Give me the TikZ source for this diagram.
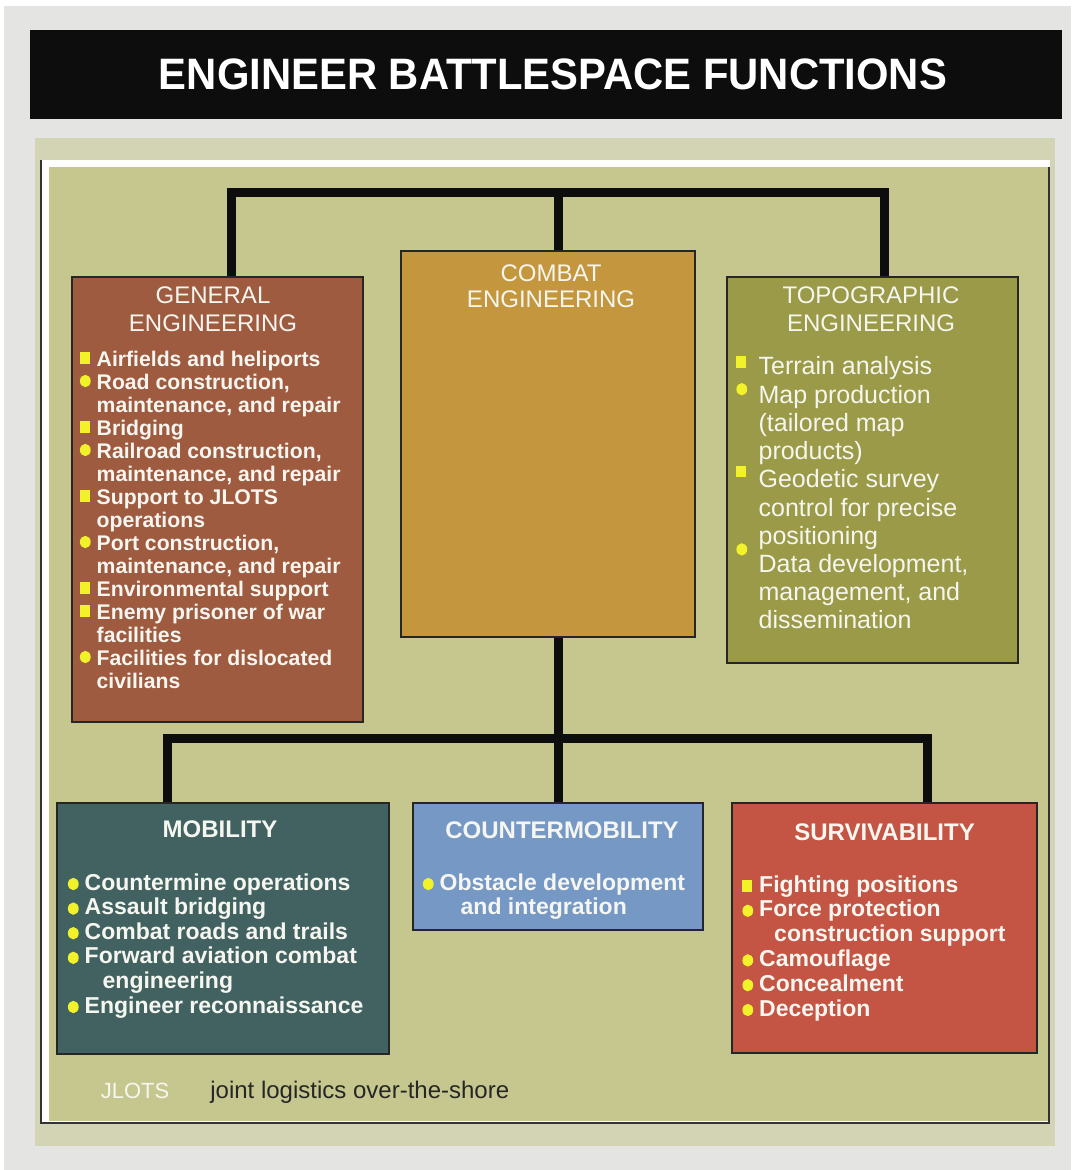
\documentclass[tikz,border=0pt]{standalone}
\usepackage{fontspec}
\setmainfont{Liberation Sans}
\usepackage{graphicx}
\usetikzlibrary{calc,fit}

\definecolor{bggray}{HTML}{E4E4E2}
\definecolor{panel}{HTML}{D2D4B4}
\definecolor{khaki}{HTML}{C6C78F}
\definecolor{genbrown}{HTML}{9E5B40}
\definecolor{combgold}{HTML}{C4973F}
\definecolor{topoolive}{HTML}{9A9A48}
\definecolor{mobteal}{HTML}{416260}
\definecolor{cmobblue}{HTML}{7598C4}
\definecolor{survred}{HTML}{C45443}
\definecolor{bulyel}{HTML}{F2F22A}
\definecolor{txtwhite}{HTML}{F6F6F0}

% bullets, optional arg = height of the bullet centre over the baseline
\newcommand{\sqb}[1][4pt]{\smash{\tikz[baseline=0pt]\fill[bulyel] (0pt,#1-2.8pt) rectangle ++(5pt,5.6pt);}}
\newcommand{\rdb}[1][4pt]{\smash{\tikz[baseline=0pt]\fill[bulyel] (2.7pt,#1) ellipse (2.7pt and 3.1pt);}}

\begin{document}
\begin{tikzpicture}[x=0.5pt,y=-0.5pt,line join=miter]
		\tikzstyle{box}=[draw=black!85, line width=1pt, inner sep=0pt];
		\tikzstyle{conn}=[line width=4.5pt, black!95];
		\tikzstyle{head}=[text=txtwhite, inner sep=0pt, anchor=base];
		\tikzstyle{body}=[text=txtwhite, inner sep=0pt, anchor=base west];

		\useasboundingbox (0,0) rectangle (1071,1170);
		\fill[white] (0,0) rectangle (1071,1170);
		\fill[bggray] (4,6) rectangle (1071,1170);

		% title bar
		\fill[black!95] (30,30) rectangle (1062,119);
		\node[head, text=white, font=\fontsize{22}{26}\selectfont\bfseries] (title) at (553,90) {\scalebox{0.95}[1]{ENGINEER BATTLESPACE FUNCTIONS}};

		% panel
		\fill[panel] (35,138) rectangle (1055,1146);
		\fill[white] (41,160) rectangle (1050,1123);
		\fill[khaki] (49,167) rectangle (1048,1121);
		\draw[black!80, line width=1pt] (41,160) -- (41,1123) -- (1049,1123) -- (1049,167);

		% boxes
		\node[box, fill=genbrown, fit={(72,277) (363,722)}] (gen) {};
		\node[box, fill=combgold, fit={(401,251) (695,637)}] (comb) {};
		\node[box, fill=topoolive, fit={(727,277) (1018,663)}] (topo) {};
		\node[box, fill=mobteal, fit={(57,803) (389,1054)}] (mob) {};
		\node[box, fill=cmobblue, fit={(413,803) (703,930)}] (cmob) {};
		\node[box, fill=survred, fit={(732,803) (1037,1053)}] (surv) {};

		% connectors
		\coordinate (topbar) at (558,193);
		\coordinate (gtop) at ($(gen.north)+(14,0)$);
		\coordinate (ttop) at ($(topo.north)+(11.5,0)$);
		\draw[conn] (gtop) |- (topbar) -| (ttop);
		\draw[conn] (topbar) -- ($(comb.north)+(10,0)$);

		\coordinate (botbar) at (558,738);
		\draw[conn] ($(comb.south)+(10,0)$) -- (botbar) -- (cmob.north);
		\draw[conn] ($(mob.north)+(-56,0)$) |- (botbar) -| ($(surv.north)+(43,0)$);

		% headings
		\node[head, font=\fontsize{12}{14}\selectfont] (genhead) at (213,304) {\begin{tabular}[t]{@{}c@{}}GENERAL\\ENGINEERING\end{tabular}};
		\node[head, font=\fontsize{12}{13}\selectfont] (combhead) at (551,282) {\begin{tabular}[t]{@{}c@{}}COMBAT\\ENGINEERING\end{tabular}};
		\node[head, font=\fontsize{12}{14}\selectfont] (topohead) at (871,304) {\begin{tabular}[t]{@{}c@{}}TOPOGRAPHIC\\ENGINEERING\end{tabular}};
		\node[head, font=\fontsize{12}{14}\selectfont\bfseries] (mobhead) at (220,837) {MOBILITY};
		\node[head, font=\fontsize{12}{14}\selectfont\bfseries] (cmobhead) at (562,838) {COUNTERMOBILITY};
		\node[head, font=\fontsize{12}{14}\selectfont\bfseries] (survhead) at (884.5,840) {SURVIVABILITY};

		% lists
		\node[body, font=\fontsize{10.6}{11.5}\selectfont\bfseries] (genlist) at (79.5,366) {\begin{tabular}[t]{@{}l@{\hspace{3pt}}l@{}}
			\sqb & Airfields and heliports\\
			\rdb & Road construction,\\
			 & maintenance, and repair\\
			\sqb & Bridging\\
			\rdb & Railroad construction,\\
			 & maintenance, and repair\\
			\sqb & Support to JLOTS\\
			 & operations\\
			\rdb & Port construction,\\
			 & maintenance, and repair\\
			\sqb & Environmental support\\
			\sqb & Enemy prisoner of war\\
			 & facilities\\
			\rdb & Facilities for dislocated\\
			 & civilians
		\end{tabular}};

		\node[body, font=\fontsize{12.5}{14.1}\selectfont] (topolist) at (736,375) {\begin{tabular}[t]{@{}l@{\hspace{5.7pt}}l@{}}
			\sqb[6.5pt] & Terrain analysis\\
			\rdb[7pt] & Map production\\
			 & (tailored map\\
			 & products)\\
			\sqb[8pt] & Geodetic survey\\
			 & control for precise\\
			 & positioning\\
			\rdb[11.5pt] & Data development,\\
			 & management, and\\
			 & dissemination
		\end{tabular}};

		\node[body, font=\fontsize{11.5}{12.3}\selectfont\bfseries] (moblist) at (67.5,890) {\begin{tabular}[t]{@{}l@{\hspace{3pt}}l@{}}
			\rdb[3pt] & Countermine operations\\
			\rdb[3pt] & Assault bridging\\
			\rdb[3pt] & Combat roads and trails\\
			\rdb[3pt] & Forward aviation combat\\
			 & \hspace{9pt}engineering\\
			\rdb[3pt] & Engineer reconnaissance
		\end{tabular}};

		\node[body, font=\fontsize{11.5}{12}\selectfont\bfseries] (cmoblist) at (422.5,890) {\begin{tabular}[t]{@{}l@{\hspace{3pt}}l@{}}
			\rdb[3pt] & Obstacle development\\
			 & \hspace{10.5pt}and integration
		\end{tabular}};

		\node[body, font=\fontsize{11.5}{12.4}\selectfont\bfseries] (survlist) at (742,892) {\begin{tabular}[t]{@{}l@{\hspace{3pt}}l@{}}
			\sqb[3pt] & Fighting positions\\
			\rdb[3pt] & Force protection\\
			 & \hspace{7.5pt}construction support\\
			\rdb[3pt] & Camouflage\\
			\rdb[3pt] & Concealment\\
			\rdb[3pt] & Deception
		\end{tabular}};

		% footnote
		\node[head, text=white!85!khaki, font=\fontsize{11}{13}\selectfont] (jlots) at (135,1098) {JLOTS};
		\node[body, text=black!85, font=\fontsize{12}{14}\selectfont] (jlotsdef) at (210,1098) {joint logistics over-the-shore};
\end{tikzpicture}
\end{document}
